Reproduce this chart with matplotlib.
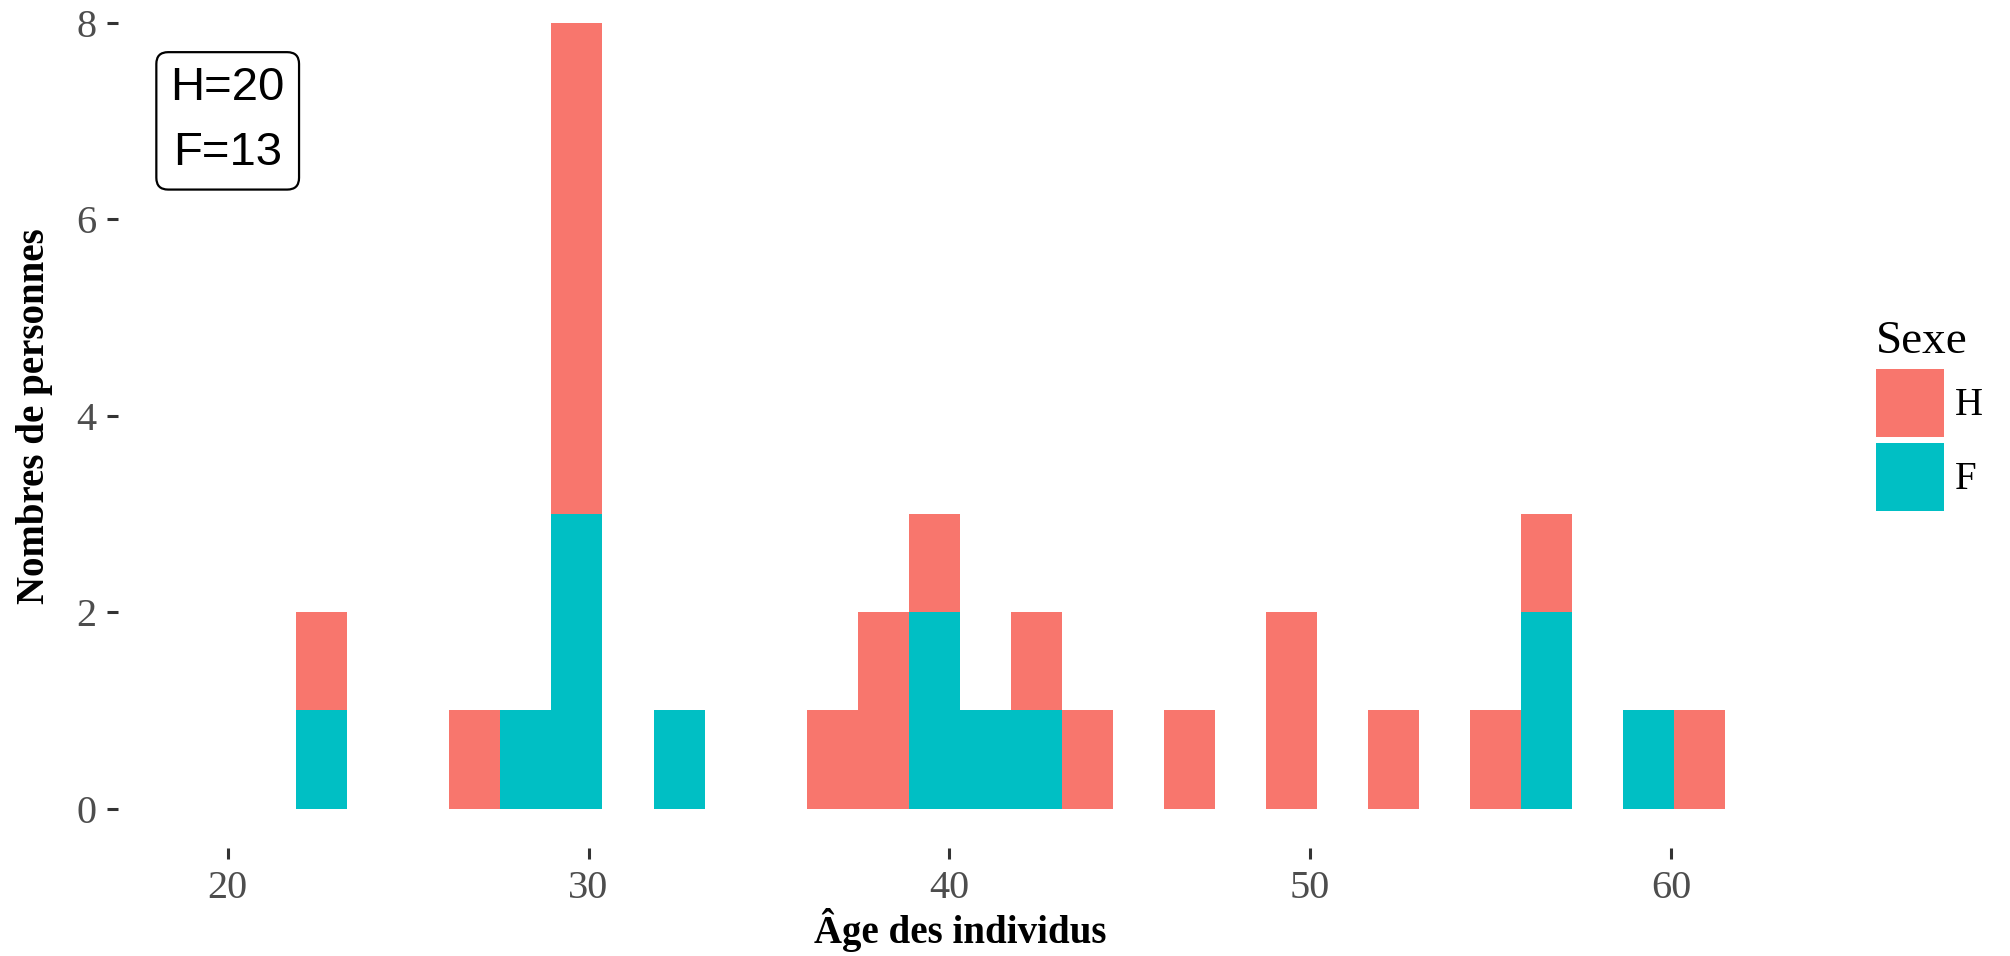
import matplotlib.pyplot as plt
import numpy as np
from matplotlib.patches import Patch

# Histogramme des âges (28 classes), empilé par sexe
age_min = 21.90
bin_width = 1.4145
n_bins = 28

counts_H = [1, 0, 0, 1, 0, 5, 0, 0, 0, 0, 1, 2, 1, 0,
            1, 1, 0, 1, 0, 2, 0, 1, 0, 1, 1, 0, 0, 1]
counts_F = [1, 0, 0, 0, 1, 3, 0, 1, 0, 0, 0, 0, 2, 1,
            1, 0, 0, 0, 0, 0, 0, 0, 0, 0, 2, 0, 1, 0]

x_ticks = [20, 30, 40, 50, 60]
y_ticks = [0, 2, 4, 6, 8]
sexes = ['H', 'F']
colors = {'H': '#F8766D', 'F': '#00BFC4'}

label_txt = 'H=20\nF=13'
label_x, label_y = 20, 7

plt.rcParams['font.family'] = ['Liberation Serif', 'DejaVu Serif']

fig = plt.figure(figsize=(20.1, 9.56), dpi=100)
ax = fig.add_axes([118 / 2010, 108 / 956, 1684 / 2010, 864.7 / 956])

edges = age_min + bin_width * np.arange(n_bins + 1)
left = edges[:-1]
hF = np.array(counts_F)
hH = np.array(counts_H)

ax.bar(left, hF, width=bin_width, align='edge', color=colors['F'], linewidth=0)
ax.bar(left, hH, width=bin_width, align='edge', bottom=hF, color=colors['H'], linewidth=0)

ax.set_xlim(16.96, 63.63)
ax.set_ylim(-0.4, 8.4)
ax.set_xticks(x_ticks)
ax.set_yticks(y_ticks)
for s in ax.spines.values():
    s.set_visible(False)
ax.tick_params(length=8, width=2.2, color='#333333', pad=7.5,
               labelsize=29, labelcolor='#4D4D4D')

ax.set_xlabel('Âge des individus', fontsize=28, fontweight='bold', labelpad=1)
ax.set_ylabel('Nombres de personnes', fontsize=28, fontweight='bold', labelpad=16.5)

# étiquette des effectifs
ax.text(label_x, label_y, label_txt, ha='center', va='center', fontsize=34,
        family=['Liberation Sans', 'DejaVu Sans'], linespacing=1.62,
        bbox=dict(boxstyle='round,pad=0.3,rounding_size=0.25',
                  facecolor='white', edgecolor='black', linewidth=1.6))

handles = [Patch(facecolor=colors[s], edgecolor='none', label=s) for s in sexes]
leg = ax.legend(handles=handles, title='Sexe', loc='upper left',
                bbox_to_anchor=(1860 / 2010, 1 - 305 / 956),
                bbox_transform=fig.transFigure, frameon=False,
                fontsize=28, title_fontsize=34, handlelength=1.75,
                handleheight=2.31, labelspacing=0.15, handletextpad=0.3,
                alignment='left', borderaxespad=0)

fig.savefig('out.png', dpi=100, facecolor='white')
